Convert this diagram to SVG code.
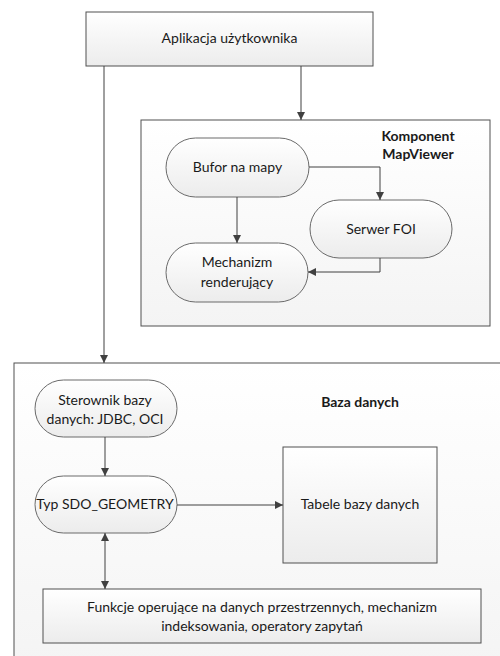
<svg xmlns="http://www.w3.org/2000/svg" width="500" height="656" viewBox="0 0 500 656">
<defs>
<linearGradient id="g" x1="0" y1="0" x2="0" y2="1"><stop offset="0" stop-color="#ffffff"/><stop offset="1" stop-color="#ececec"/></linearGradient>
<linearGradient id="gc" x1="0" y1="0" x2="0" y2="1"><stop offset="0" stop-color="#ffffff"/><stop offset="1" stop-color="#f4f4f4"/></linearGradient>
<marker id="a" viewBox="0 0 10 10" refX="10" refY="5" markerWidth="8" markerHeight="8" markerUnits="userSpaceOnUse" orient="auto-start-reverse"><path d="M0,0 L10,5 L0,10 z" fill="#404040"/></marker>
<style>
.t{font-family:Lato,"Open Sans","Liberation Sans",sans-serif;font-size:14px;fill:#1a1a1a;text-anchor:middle}
.b{font-weight:bold}
.box{fill:url(#g);stroke:#505050;stroke-width:1}
.cont{fill:url(#gc);stroke:#505050;stroke-width:1}
.pill{fill:url(#g);stroke:#6a6a6a;stroke-width:1}
.c{fill:none;stroke:#404040;stroke-width:1}
</style>
</defs>
<g id="app"><rect class="box" x="86" y="12" width="287" height="54"/><text class="t" x="229.5" y="43">Aplikacja użytkownika</text></g>
<g id="mapviewer"><rect class="cont" x="141" y="120" width="349" height="206"/><text class="t b" x="418" y="141">Komponent</text><text class="t b" x="418" y="159">MapViewer</text></g>
<g id="bufor"><rect class="pill" x="166" y="138" width="143" height="59" rx="29.5"/><text class="t" x="237.5" y="172">Bufor na mapy</text></g>
<g id="serwer"><rect class="pill" x="310" y="200" width="142" height="58" rx="29"/><text class="t" x="381" y="234">Serwer FOI</text></g>
<g id="mech"><rect class="pill" x="166" y="243" width="142" height="59" rx="29.5"/><text class="t" x="237" y="267">Mechanizm</text><text class="t" x="237" y="287">renderujący</text></g>
<g id="baza"><rect class="cont" x="14" y="363" width="500" height="310" stroke="#a0a0a0"/><text class="t b" x="360" y="407">Baza danych</text></g>
<g id="sterownik"><rect class="pill" x="35" y="380" width="142" height="57" rx="28.5"/><text class="t" x="105" y="405">Sterownik bazy</text><text class="t" x="105" y="424">danych: JDBC, OCI</text></g>
<g id="typ"><rect class="pill" x="35" y="476" width="142" height="57" rx="28.5"/><text class="t" x="105" y="509">Typ SDO_GEOMETRY</text></g>
<g id="tabele"><rect class="box" x="283" y="447" width="154" height="116"/><text class="t" x="360" y="509">Tabele bazy danych</text></g>
<g id="funkcje"><rect class="box" x="43" y="589" width="438" height="54"/><text class="t" x="262" y="612">Funkcje operujące na danych przestrzennych, mechanizm</text><text class="t" x="262" y="631">indeksowania, operatory zapytań</text></g>
<g id="connectors">
<path class="c" d="M104,66 V363" marker-end="url(#a)"/>
<path class="c" d="M301,66 V120" marker-end="url(#a)"/>
<path class="c" d="M237,197 V243" marker-end="url(#a)"/>
<path class="c" d="M309,167 H380 V200" marker-end="url(#a)"/>
<path class="c" d="M380,258 V272 H308" marker-end="url(#a)"/>
<path class="c" d="M105,437 V476" marker-end="url(#a)"/>
<path class="c" d="M177,505 H283" marker-end="url(#a)"/>
<path class="c" d="M105,533 V589" marker-start="url(#a)" marker-end="url(#a)"/>
</g>
</svg>
